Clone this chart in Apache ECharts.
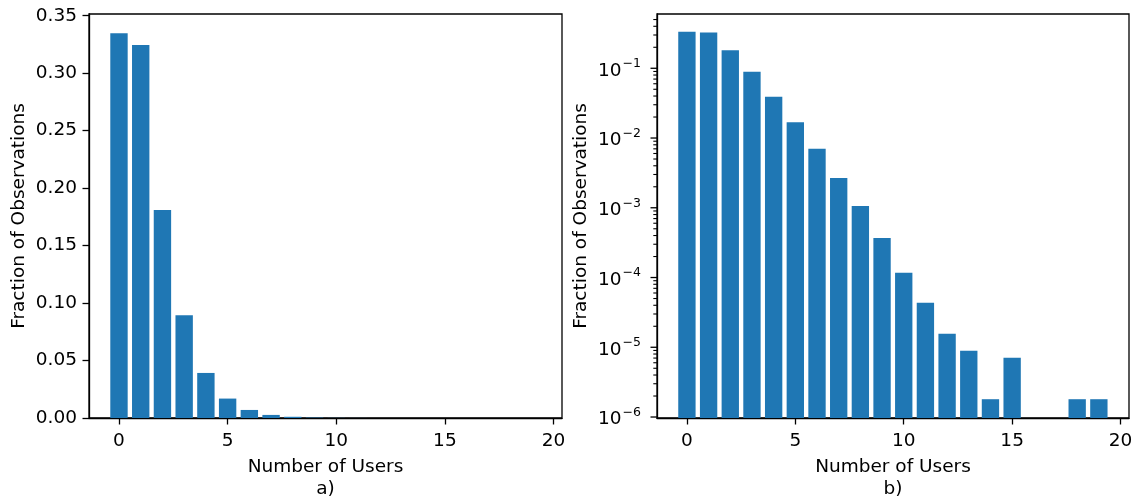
<!DOCTYPE html>
<html>
<head>
<meta charset="utf-8">
<script src="https://cdn.jsdelivr.net/npm/echarts@6/dist/echarts.min.js"></script>
<style>
  html, body { margin: 0; padding: 0; background: #fff; }
  #main { width: 1137px; height: 497px; }
</style>
</head>
<body>
<div id="main"></div>
<script>
// number of simultaneous users vs. fraction of observations
const users = [0, 1, 2, 3, 4, 5, 6, 7, 8, 9, 10, 11, 12, 13, 14, 15, 16, 17, 18, 19];
const fraction = [0.3347, 0.3245, 0.181, 0.0895, 0.0392, 0.0169, 0.0070, 0.00268, 0.00106, 0.00037,
                  0.000117, 0.0000433, 0.0000156, 0.0000089, 0.0000018, 0.0000071, 0, 0, 0.0000018, 0.0000018];
const xTicks = [0, 5, 10, 15, 20];
const linTicks = [0, 0.05, 0.10, 0.15, 0.20, 0.25, 0.30, 0.35];
const logTicks = [1e-6, 1e-5, 1e-4, 1e-3, 1e-2, 1e-1];

const X_MIN = -1.38, X_MAX = 20.39;
const LIN_MAX = 0.3515;
const LOG_MIN = 9.68e-7, LOG_MAX = 0.6;
const FONT = 'DejaVu Sans';
const BLUE = '#1f77b4';

// minor ticks of the log axis at 2..9 x 10^k
const logMinor = [];
logTicks.forEach(t => {
  for (let m = 2; m <= 9; m++) {
    const v = t * m;
    if (v > LOG_MIN && v < LOG_MAX) logMinor.push(v);
  }
});

function barItem(base) {
  return function (params, api) {
    const x = api.value(0), y = api.value(1);
    const a = api.coord([x - 0.4, y]);
    const b = api.coord([x + 0.4, base]);
    return {
      type: 'rect',
      shape: { x: a[0], y: a[1], width: b[0] - a[0], height: b[1] - a[1] },
      style: { fill: BLUE }
    };
  };
}

function tickItem(len, width) {
  return function (params, api) {
    const p = api.coord([X_MIN, api.value(1)]);
    return {
      type: 'line',
      shape: { x1: p[0] - len, y1: p[1], x2: p[0], y2: p[1] },
      style: { stroke: '#000', lineWidth: width }
    };
  };
}

function xAxisFor(idx) {
  return {
    type: 'value', gridIndex: idx, min: X_MIN, max: X_MAX,
    name: 'Number of Users\n' + (idx ? 'b)' : 'a)'),
    nameLocation: 'middle', nameGap: 38,
    nameTextStyle: { fontFamily: FONT, fontSize: 18.5, color: '#000', lineHeight: 22 },
    axisLine: { show: true, onZero: false, lineStyle: { color: '#000', width: 1.3 } },
    axisTick: { show: true, customValues: xTicks, length: 6.5, lineStyle: { color: '#000', width: 1.3 } },
    axisLabel: { customValues: xTicks, margin: 14, fontFamily: FONT, fontSize: 18.5, color: '#000' },
    splitLine: { show: false }
  };
}

const option = {
  animation: false,
  grid: [
    { left: 89, top: 14, width: 473, height: 404, show: true, borderColor: '#000', borderWidth: 1.3,
      containLabel: false, outerBoundsMode: 'none' },
    { left: 657, top: 14, width: 472, height: 404, show: true, borderColor: '#000', borderWidth: 1.3,
      containLabel: false, outerBoundsMode: 'none' }
  ],
  xAxis: [xAxisFor(0), xAxisFor(1)],
  yAxis: [
    {
      type: 'value', gridIndex: 0, min: 0, max: LIN_MAX,
      name: 'Fraction of Observations', nameLocation: 'middle', nameGap: 60,
      nameTextStyle: { fontFamily: FONT, fontSize: 18.5, color: '#000' },
      axisLine: { show: true, onZero: false, lineStyle: { color: '#000', width: 1.3 } },
      axisTick: { show: true, customValues: linTicks, length: 6.5, lineStyle: { color: '#000', width: 1.3 } },
      axisLabel: { customValues: linTicks, margin: 12, fontFamily: FONT, fontSize: 18.5, color: '#000',
                   formatter: v => v.toFixed(2) },
      splitLine: { show: false }
    },
    {
      type: 'log', gridIndex: 1, logBase: 10, min: LOG_MIN, max: LOG_MAX,
      name: 'Fraction of Observations', nameLocation: 'middle', nameGap: 66,
      nameTextStyle: { fontFamily: FONT, fontSize: 18.5, color: '#000' },
      axisLine: { show: true, onZero: false, lineStyle: { color: '#000', width: 1.3 } },
      axisTick: { show: false },
      axisLabel: {
        margin: 16, fontFamily: FONT, color: '#000',
        showMinLabel: false, showMaxLabel: false,
        formatter: v => {
          const e = Math.log10(v);
          if (Math.abs(e - Math.round(e)) > 1e-6) return '';
          return '{b|10}{s|\u2212' + Math.abs(Math.round(e)) + '}';
        },
        rich: {
          b: { fontFamily: FONT, fontSize: 18.5, color: '#000', lineHeight: 22, padding: [5, 0, 0, 0] },
          s: { fontFamily: FONT, fontSize: 12.5, color: '#000', lineHeight: 13, padding: [0, 0, 9, 1] }
        }
      },
      splitLine: { show: false }
    }
  ],
  series: [
    {
      type: 'custom', xAxisIndex: 0, yAxisIndex: 0, silent: true,
      renderItem: barItem(0),
      data: users.map((u, i) => [u, fraction[i]])
    },
    {
      type: 'custom', xAxisIndex: 1, yAxisIndex: 1, silent: true,
      renderItem: barItem(LOG_MIN),
      data: users.map((u, i) => [u, fraction[i]]).filter(d => d[1] > 0)
    },
    {
      type: 'custom', xAxisIndex: 1, yAxisIndex: 1, silent: true, clip: false,
      renderItem: tickItem(6.5, 1.3),
      data: logTicks.map(v => [X_MIN, v])
    },
    {
      type: 'custom', xAxisIndex: 1, yAxisIndex: 1, silent: true, clip: false,
      renderItem: tickItem(3.7, 1.1),
      data: logMinor.map(v => [X_MIN, v])
    }
  ]
};

const chart = echarts.init(document.getElementById('main'));
chart.setOption(option);
</script>
</body>
</html>
